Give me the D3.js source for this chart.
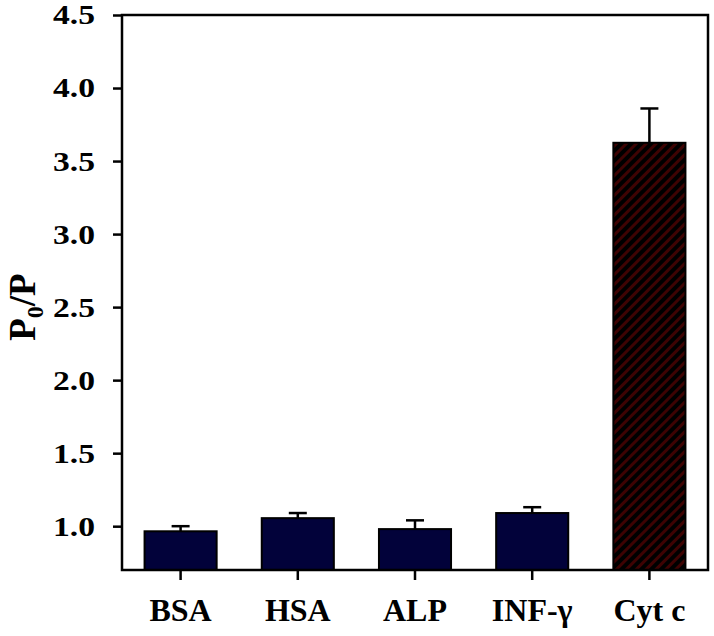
<!DOCTYPE html>
<html>
<head>
<meta charset="utf-8">
<script src="https://cdn.jsdelivr.net/npm/d3@7"></script>
<style>
  body { margin: 0; background: #fff; }
</style>
</head>
<body>
<div id="chart"></div>
<script>
// Data
const categories = ["BSA", "HSA", "ALP", "INF-\u03b3", "Cyt c"];
const values = [0.965, 1.055, 0.98, 1.09, 3.625];
const errors = [0.035, 0.035, 0.06, 0.04, 0.235];
const yTicks = [1.0, 1.5, 2.0, 2.5, 3.0, 3.5, 4.0, 4.5];

const width = 714, height = 636;
const margin = { top: 15, right: 6, bottom: 66, left: 122 };
const serif = "Liberation Serif";

const svg = d3.select("#chart").append("svg")
    .attr("width", width)
    .attr("height", height);

// Hatch pattern for the Cyt c bar
const defs = svg.append("defs");
const pat = defs.append("pattern")
    .attr("id", "hatch")
    .attr("patternUnits", "userSpaceOnUse")
    .attr("width", 7)
    .attr("height", 7)
    .attr("patternTransform", "rotate(45)");
pat.append("rect").attr("width", 7).attr("height", 7).attr("fill", "#3e0303");
pat.append("rect").attr("width", 4).attr("height", 7).attr("fill", "#000");

const x = d3.scaleBand()
    .domain(categories)
    .range([margin.left, width - margin.right])
    .paddingInner(0.385)
    .paddingOuter(0.1925);

const y = d3.scaleLinear()
    .domain([0.7, 4.5])
    .range([height - margin.bottom, margin.top]);

// Bars
svg.append("g")
    .selectAll("rect")
    .data(values)
    .join("rect")
    .attr("x", (d, i) => x(categories[i]))
    .attr("y", d => y(d))
    .attr("width", x.bandwidth())
    .attr("height", d => y(0.7) - y(d))
    .attr("fill", (d, i) => i === 4 ? "url(#hatch)" : "#02023a")
    .attr("stroke", "#000")
    .attr("stroke-width", 2);

// Error bars (upper only)
const err = svg.append("g").attr("stroke", "#000").attr("stroke-width", 2.5);
values.forEach(function (v, i) {
    const cx = x(categories[i]) + x.bandwidth() / 2;
    err.append("line")
        .attr("x1", cx).attr("x2", cx)
        .attr("y1", y(v)).attr("y2", y(v + errors[i]));
    err.append("line")
        .attr("x1", cx - 9).attr("x2", cx + 9)
        .attr("y1", y(v + errors[i])).attr("y2", y(v + errors[i]));
});

// Axes
const yAxis = svg.append("g")
    .attr("transform", "translate(" + margin.left + ",0)")
    .call(d3.axisLeft(y).tickValues(yTicks).tickFormat(d3.format(".1f")).tickSize(9).tickPadding(0));
yAxis.select(".domain").remove();
yAxis.selectAll("line").attr("stroke-width", 2.5);
yAxis.selectAll("text")
    .attr("font-family", serif)
    .attr("font-weight", "bold")
    .attr("font-size", 28)
    .attr("fill", "#000")
    .attr("x", null)
    .attr("transform", "translate(-27,0) scale(1.2,1)");

const xAxis = svg.append("g")
    .attr("transform", "translate(0," + (height - margin.bottom) + ")")
    .call(d3.axisBottom(x).tickSize(10).tickPadding(18));
xAxis.select(".domain").remove();
xAxis.selectAll("line").attr("stroke-width", 2.5);
xAxis.selectAll("text")
    .attr("font-family", serif)
    .attr("font-weight", "bold")
    .attr("font-size", 32)
    .attr("fill", "#000");

// Frame
svg.append("rect")
    .attr("x", margin.left)
    .attr("y", margin.top)
    .attr("width", width - margin.left - margin.right)
    .attr("height", height - margin.top - margin.bottom)
    .attr("fill", "none")
    .attr("stroke", "#000")
    .attr("stroke-width", 2.5);

// Y axis title
const title = svg.append("text")
    .attr("transform", "translate(35," + y(2.5) + ") rotate(-90)")
    .attr("text-anchor", "middle")
    .attr("font-family", serif)
    .attr("font-weight", "bold")
    .attr("font-size", 37)
    .attr("fill", "#000");
title.append("tspan").text("P");
title.append("tspan").attr("font-size", 24).attr("dy", 8).text("0");
title.append("tspan").attr("dy", -8).text("/P");
</script>
</body>
</html>
